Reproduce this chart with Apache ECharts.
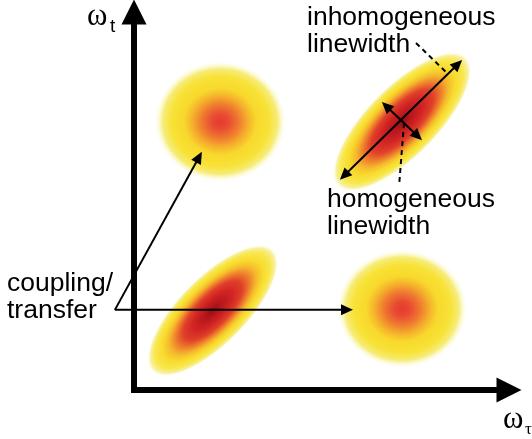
<!DOCTYPE html>
<html>
<head>
<meta charset="utf-8">
<script src="https://cdn.jsdelivr.net/npm/echarts@6/dist/echarts.min.js"></script>
<style>
  html, body { margin: 0; padding: 0; background: #ffffff; }
  #chart { width: 532px; height: 439px; }
</style>
</head>
<body>
<div id="chart"></div>
<script>
// Peak centres on the (ω_τ, ω_t) plane, arbitrary frequency units
const peakTau = [2.1, 7.15, 2.3, 7.15];
const peakT = [2.1, 7.1, 7.1, 2.15];
// Semi-axis along the principal direction and across it (same units)
const peakMajor = [2.3, 2.44, 1.76, 1.74];
const peakMinor = [0.9, 0.94, 1.6, 1.57];
// Principal direction in degrees (diagonal peaks follow ω_τ = ω_t)
const peakAngle = [45, 45, 0, 0];
// 0 = diagonal peak, 1 = cross peak
const peakKind = [0, 0, 1, 1];

// Double-headed linewidth arrows across the upper diagonal peak
const inhomArrow = [[5.49, 5.56], [8.75, 8.73]];
const homArrow = [[6.61, 7.62], [7.68, 6.61]];
// Coupling/transfer arrows, from the label towards the cross peaks
const couplingFrom = [-0.51, 2.12];
const couplingTo = [[5.84, 2.12], [1.81, 6.30]];
// Dashed leaders from the linewidth labels
const inhomLeader = [[7.52, 9.18], [8.32, 8.41]];
const homLeader = [[7.2, 7.06], [7.07, 5.42]];

const diagFill = {
  type: 'radial', x: 0.5, y: 0.5, r: 0.5,
  colorStops: [
    { offset: 0.0, color: '#960e16' },
    { offset: 0.12, color: '#b6161c' },
    { offset: 0.3, color: '#d22424' },
    { offset: 0.45, color: '#e0402a' },
    { offset: 0.56, color: '#ee7e2c' },
    { offset: 0.66, color: '#f5b82e' },
    { offset: 0.76, color: '#f8da2c' },
    { offset: 0.88, color: '#f8e84e' },
    { offset: 0.95, color: '#f8f0a0' },
    { offset: 1.0, color: 'rgba(255,255,240,0)' }
  ]
};
const crossFill = {
  type: 'radial', x: 0.5, y: 0.5, r: 0.5,
  colorStops: [
    { offset: 0.0, color: '#e63a30' },
    { offset: 0.12, color: '#e84a32' },
    { offset: 0.28, color: '#ef7a30' },
    { offset: 0.42, color: '#f5b02c' },
    { offset: 0.55, color: '#f8d82c' },
    { offset: 0.74, color: '#f8e236' },
    { offset: 0.87, color: '#f6ec7a' },
    { offset: 1.0, color: 'rgba(255,255,240,0)' }
  ]
};

const peakData = peakTau.map((x, i) => [x, peakT[i], peakMajor[i], peakMinor[i], peakAngle[i], peakKind[i]]);

function renderPeak(params, api) {
  const cx = api.value(0), cy = api.value(1);
  const a = api.value(2), b = api.value(3);
  const th = api.value(4) * Math.PI / 180;
  const p0 = api.coord([cx, cy]);
  const pa = api.coord([cx + a * Math.cos(th), cy + a * Math.sin(th)]);
  const pb = api.coord([cx - b * Math.sin(th), cy + b * Math.cos(th)]);
  const A = Math.hypot(pa[0] - p0[0], pa[1] - p0[1]);
  const B = Math.hypot(pb[0] - p0[0], pb[1] - p0[1]);
  const rot = Math.atan2(-(pa[1] - p0[1]), pa[0] - p0[0]);
  return {
    type: 'circle',
    shape: { cx: 0, cy: 0, r: A },
    x: p0[0], y: p0[1],
    rotation: rot,
    scaleX: 1, scaleY: B / A,
    style: { fill: api.value(5) === 0 ? diagFill : crossFill }
  };
}

// Filled arrow head whose tip sits at p, pointing along (p - q)
function head(p, q, len, wid) {
  const dx = p[0] - q[0], dy = p[1] - q[1];
  const d = Math.hypot(dx, dy);
  const ux = dx / d, uy = dy / d;
  const bx = p[0] - ux * len, by = p[1] - uy * len;
  return {
    type: 'polygon',
    shape: { points: [p, [bx - uy * wid / 2, by + ux * wid / 2], [bx + uy * wid / 2, by - ux * wid / 2]] },
    style: { fill: '#000' }
  };
}

// Each row: x1, y1, x2, y2, heads (0 none, 1 end, 2 both), dashed (0/1)
const segmentRows = [];
segmentRows.push([inhomArrow[0][0], inhomArrow[0][1], inhomArrow[1][0], inhomArrow[1][1], 2, 0]);
segmentRows.push([homArrow[0][0], homArrow[0][1], homArrow[1][0], homArrow[1][1], 2, 0]);
couplingTo.forEach(t => segmentRows.push([couplingFrom[0], couplingFrom[1], t[0], t[1], 1, 0]));
segmentRows.push([inhomLeader[0][0], inhomLeader[0][1], inhomLeader[1][0], inhomLeader[1][1], 0, 1]);
segmentRows.push([homLeader[0][0], homLeader[0][1], homLeader[1][0], homLeader[1][1], 0, 1]);

function renderSegment(params, api) {
  const p1 = api.coord([api.value(0), api.value(1)]);
  const p2 = api.coord([api.value(2), api.value(3)]);
  const heads = api.value(4);
  const dashed = api.value(5) === 1;
  const len = 12, wid = 11;
  const dx = p2[0] - p1[0], dy = p2[1] - p1[1];
  const d = Math.hypot(dx, dy);
  const ux = dx / d, uy = dy / d;
  const s = heads === 2 ? [p1[0] + ux * len * 0.6, p1[1] + uy * len * 0.6] : p1;
  const e = heads >= 1 ? [p2[0] - ux * len * 0.6, p2[1] - uy * len * 0.6] : p2;
  const children = [{
    type: 'line',
    shape: { x1: s[0], y1: s[1], x2: e[0], y2: e[1] },
    style: { stroke: '#000', lineWidth: 2, lineDash: dashed ? [5, 4] : null }
  }];
  if (heads >= 1) children.push(head(p2, p1, len, wid));
  if (heads === 2) children.push(head(p1, p2, len, wid));
  return { type: 'group', children: children };
}

const textFont = '26.5px "Liberation Sans", Arial, sans-serif';

const chart = echarts.init(document.getElementById('chart'), null, { renderer: 'canvas' });
chart.setOption({
  backgroundColor: '#ffffff',
  animation: false,
  grid: { left: 134, right: 23, top: 12, bottom: 49 },
  xAxis: {
    type: 'value', min: 0, max: 10,
    axisLine: {
      show: true, onZero: false,
      symbol: ['none', 'triangle'], symbolSize: [25, 25],
      lineStyle: { color: '#000', width: 6, cap: 'square' }
    },
    axisTick: { show: false }, axisLabel: { show: false }, splitLine: { show: false }
  },
  yAxis: {
    type: 'value', min: 0, max: 10,
    axisLine: {
      show: true, onZero: false,
      symbol: ['none', 'triangle'], symbolSize: [25, 25],
      lineStyle: { color: '#000', width: 6, cap: 'square' }
    },
    axisTick: { show: false }, axisLabel: { show: false }, splitLine: { show: false }
  },
  series: [
    { type: 'custom', renderItem: renderPeak, data: peakData, z: 1, clip: false, silent: true },
    { type: 'custom', renderItem: renderSegment, data: segmentRows, z: 3, clip: false, silent: true }
  ],
  graphic: [
    { type: 'text', x: 87, y: 1, style: { text: 'ω', font: '31px "Liberation Serif", "Times New Roman", serif', fill: '#000' } },
    { type: 'text', x: 110, y: 17, style: { text: 't', font: '19px "Liberation Sans", Arial, sans-serif', fill: '#000' } },
    { type: 'text', x: 503, y: 404, style: { text: 'ω', font: '31px "Liberation Serif", "Times New Roman", serif', fill: '#000' } },
    { type: 'text', x: 525, y: 421, style: { text: 'τ', font: '17px "Liberation Serif", "Times New Roman", serif', fill: '#000' } },
    { type: 'text', x: 307, y: 4, style: { text: 'inhomogeneous\nlinewidth', font: textFont, lineHeight: 27, fill: '#000' } },
    { type: 'text', x: 327, y: 186, style: { text: 'homogeneous\nlinewidth', font: textFont, lineHeight: 27, fill: '#000' } },
    { type: 'text', x: 7, y: 270, style: { text: 'coupling/\ntransfer', font: textFont, lineHeight: 27, fill: '#000' } }
  ]
});
</script>
</body>
</html>
